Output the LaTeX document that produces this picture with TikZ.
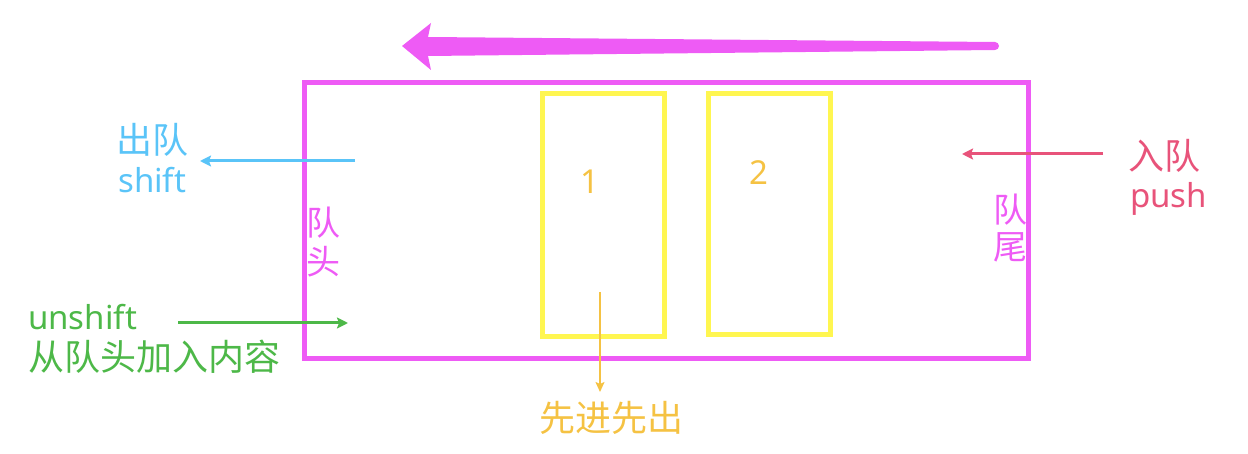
\documentclass[tikz,border=0pt]{standalone}
\usepackage{fontspec}
\setmainfont{Noto Sans}
\newfontfamily\cjk{Noto Sans CJK SC}
\usetikzlibrary{arrows.meta}
\definecolor{qmag}{HTML}{EE5BF5}
\definecolor{qyel}{HTML}{FFF650}
\definecolor{qblue}{HTML}{5AC4F8}
\definecolor{qred}{HTML}{E8537A}
\definecolor{qgreen}{HTML}{4DB848}
\definecolor{qorange}{HTML}{F5C243}
\tikzset{
  cjktxt/.style={inner sep=0pt, font=\cjk\fontsize{36}{40}\selectfont},
  lattxt/.style={inner sep=0pt, font=\fontsize{33}{37}\selectfont},
  vtxt/.style={inner sep=0pt, text=qmag, font=\cjk\fontsize{34}{38}\selectfont},
  thinarrow/.style={line width=3pt, -{Stealth[length=11pt,width=11pt,inset=2pt]}},
  cell/.style={draw=qyel, line width=5pt}
}
\begin{document}
\begin{tikzpicture}[x=1pt,y=-1pt]
\useasboundingbox (0,0) rectangle (1248,454);
% big arrow
\fill[qmag] (995,42) arc[start angle=-90,end angle=90,radius=4] -- (428,56) -- (431,70) -- (402,46) -- (431,23) -- (428,37) -- cycle;
% queue box
\draw[qmag, line width=5pt] (304,83) rectangle (1028,359);
% cells
\draw[cell] (542,94) rectangle (664,337);
\draw[cell] (708,94) rectangle (830,335);
\node[lattxt, text=qorange] (one) at (590,182) {1};
\node[lattxt, text=qorange] (two) at (759,173) {2};
% head / tail labels
\node[vtxt] (dui1) at (323,223) {队};
\node[vtxt] (tou) at (323,262) {头};
\node[vtxt] (dui2) at (1010,210) {队};
\node[vtxt] (wei) at (1010,247) {尾};
% shift
\node[cjktxt, text=qblue] (chudui) at (152,140) {出队};
\node[lattxt, text=qblue, anchor=base west] (shift) at (118,193) {shift};
\coordinate (shiftS) at (355,161);
\coordinate (shiftE) at (200,161);
\draw[thinarrow, qblue] (shiftS) -- (shiftE);
% push
\node[cjktxt, text=qred] (rudui) at (1164,156) {入队};
\node[lattxt, text=qred, anchor=base west] (push) at (1130,208) {push};
\coordinate (pushS) at (1103,154);
\coordinate (pushE) at (962,154);
\draw[thinarrow, qred] (pushS) -- (pushE);
% unshift
\node[lattxt, text=qgreen, anchor=base west] (unshift) at (28,330) {unshift};
\node[cjktxt, text=qgreen, anchor=west] (addhead) at (28,357) {从队头加入内容};
\coordinate (unS) at (178,323);
\coordinate (unE) at (348,323);
\draw[thinarrow, qgreen] (unS) -- (unE);
% fifo
\node[cjktxt, text=qorange] (fifo) at (611,418) {先进先出};
\coordinate (fS) at (600,292);
\coordinate (fE) at (600,392);
\draw[line width=1.5pt, qorange, -{Stealth[length=10pt,width=9pt,inset=2pt]}] (fS) -- (fE);
\end{tikzpicture}
\end{document}
